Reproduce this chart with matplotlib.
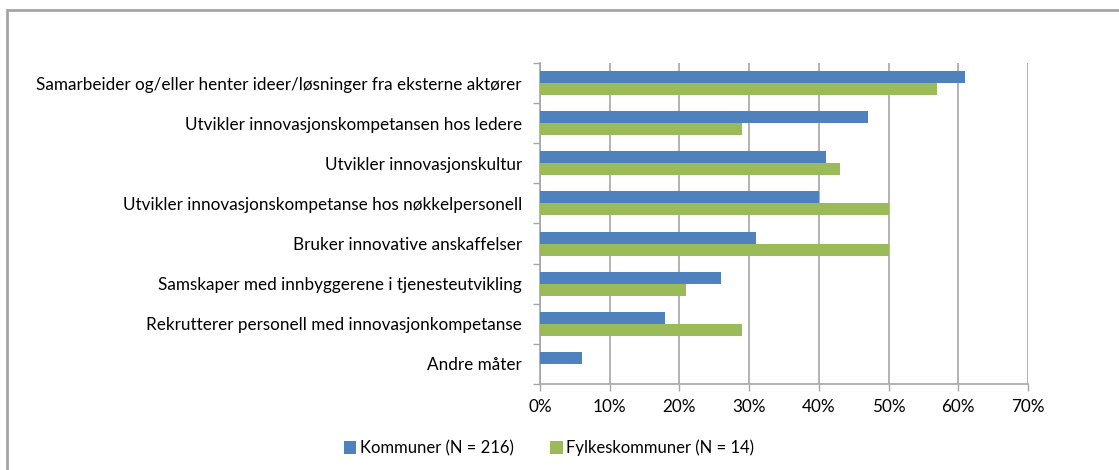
import numpy as np
import matplotlib
matplotlib.use('Agg')
import matplotlib.pyplot as plt
from matplotlib.patches import Rectangle
from matplotlib.ticker import PercentFormatter

# data (percent)
categories = ['Samarbeider og/eller henter ideer/løsninger fra eksterne aktører',
              'Utvikler innovasjonskompetansen hos ledere',
              'Utvikler innovasjonskultur',
              'Utvikler innovasjonskompetanse hos nøkkelpersonell',
              'Bruker innovative anskaffelser',
              'Samskaper med innbyggerene i tjenesteutvikling',
              'Rekrutterer personell med innovasjonkompetanse',
              'Andre måter']
kommuner = [61, 47, 41, 40, 31, 26, 18, 6]
fylkeskommuner = [57, 29, 43, 50, 50, 21, 29, 0]
series_names = ['Kommuner (N = 216)', 'Fylkeskommuner (N = 14)']

plt.rcParams['font.family'] = ['Lato', 'DejaVu Sans']
blue = '#4F81BD'
green = '#9BBB59'
grid_c = '#A6A6A6'
fs = 12.3

fig = plt.figure(figsize=(11.19, 4.70), dpi=100)
ax = fig.add_axes([540/1119, 1 - 384/470, 488/1119, 321/470])

n = len(categories)
y = np.arange(n)
h = 0.3
ax.barh(y - h/2, kommuner, height=h, color=blue, label=series_names[0], zorder=3)
ax.barh(y + h/2, fylkeskommuner, height=h, color=green, label=series_names[1], zorder=3)

ax.set_ylim(n - 0.5, -0.5)
ax.set_xlim(0, 70)
ax.set_xticks(np.arange(0, 71, 10))
ax.xaxis.set_major_formatter(PercentFormatter(decimals=0))
ax.set_yticks(y)
ax.set_yticklabels(categories)
ax.set_yticks(np.arange(-0.5, n, 1), minor=True)
ax.tick_params(axis='y', which='major', length=0, pad=13, labelsize=fs, colors='#000000')
ax.tick_params(axis='y', which='minor', length=5, color=grid_c, width=1)
ax.tick_params(axis='x', length=5, color=grid_c, width=1, labelsize=fs, pad=6)

ax.grid(axis='x', color=grid_c, lw=1.2, zorder=0)
for s in ['top', 'right']:
    ax.spines[s].set_visible(False)
for s in ['left', 'bottom']:
    ax.spines[s].set_color(grid_c)
    ax.spines[s].set_linewidth(1.2)

ax.legend(loc='center', bbox_to_anchor=(549/1119, 1 - 448/470), bbox_transform=fig.transFigure,
          ncol=2, frameon=False, fontsize=12, handlelength=0.75, handleheight=0.75,
          handletextpad=0.2, columnspacing=2.2)

# outer chart frame (right and bottom edges fall outside the image)
fig.patches.append(Rectangle((7/1119, -0.1), 1.2, 1 - 10/470 + 0.1, transform=fig.transFigure,
                             fill=False, edgecolor='#A6A6A6', lw=2, clip_on=False))

fig.savefig('out.png', dpi=100)
